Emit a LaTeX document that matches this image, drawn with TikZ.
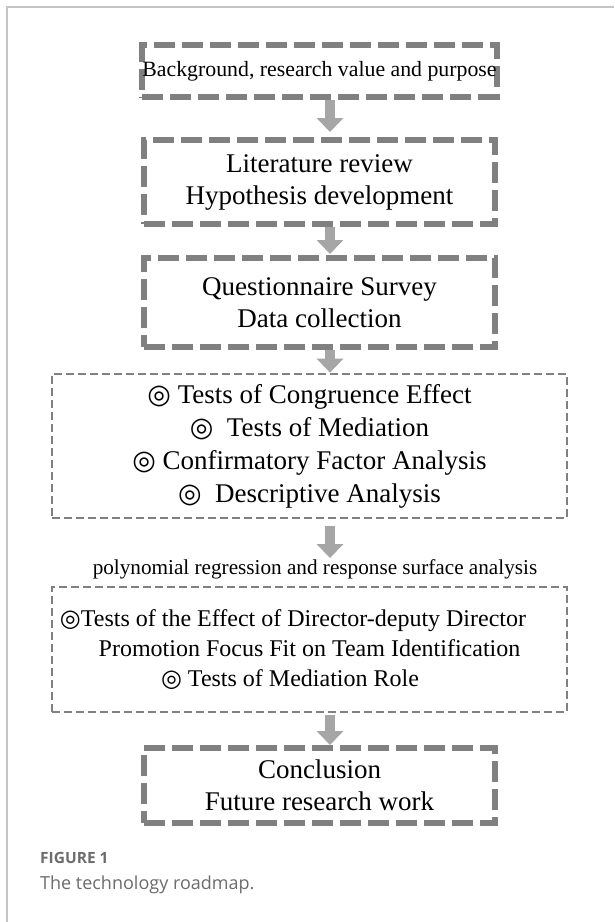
\documentclass[tikz,border=0pt]{standalone}
\usepackage{fontspec}
\setmainfont{Liberation Serif}
\newfontfamily\capfont{Open Sans}
\newfontfamily\symfont{DejaVu Sans}
\usetikzlibrary{arrows.meta}
\definecolor{boxgray}{HTML}{808080}
\definecolor{arrgray}{HTML}{A6A6A6}
\definecolor{framegray}{HTML}{C4C4C4}
\definecolor{capgray}{HTML}{6C6C6C}
\newcommand{\dc}{{\symfont ◎}}
\begin{document}
\begin{tikzpicture}[x=1pt,y=-1pt,
 thickbox/.style={draw=boxgray, line width=6pt, dash pattern=on 21pt off 7pt,
   minimum width=351pt, align=center, inner sep=0pt},
 thinbox/.style={draw=boxgray, line width=2.8pt, dash pattern=on 8pt off 4pt,
   minimum width=515pt, align=center, inner sep=0pt},
 flowarrow/.style={draw=arrgray, line width=10pt, -{Triangle[width=26pt,length=14pt]}},
 bigtext/.style={font=\fontsize{27}{32}\selectfont},
]
\useasboundingbox (0,0) rectangle (614,922);
\fill[white] (0,0) rectangle (614,922);
\draw[framegray, line width=1.5pt] (7,922) -- (7,7) -- (614,7);

\coordinate (ax) at (330,0);

\node[thickbox, minimum height=52pt, font=\fontsize{21.8}{26}\selectfont]
  (b1) at (319.5,71) {Background, research value and purpose};
\node[thickbox, minimum height=84pt, bigtext]
  (b2) at (319.5,182) {Literature review\\Hypothesis development};
\node[thickbox, minimum height=89pt, bigtext]
  (b3) at (319.5,302.5) {Questionnaire Survey\\Data collection};
\node[thinbox, minimum height=144pt, font=\fontsize{27}{33}\selectfont]
  (b4) at (309.5,446) {\dc\ Tests of Congruence Effect\\
   \dc\ \ Tests of Mediation\\
   \dc\ Confirmatory Factor Analysis\\
   \dc\ \ Descriptive Analysis};
\node[font=\fontsize{21.2}{25}\selectfont, inner sep=0pt]
  (poly) at (315,569) {polynomial regression and response surface analysis};
\node[thinbox, minimum height=125pt, font=\fontsize{24}{30}\selectfont]
  (b5) at (309.5,649.5) {\dc Tests of the Effect of Director-deputy Director\hspace*{33pt}\\
   Promotion Focus Fit on Team Identification\hspace*{14pt}\\
   \dc\ Tests of Mediation Role\hspace*{39pt}};
\node[thickbox, minimum height=75pt, bigtext]
  (b6) at (319.5,785.5) {Conclusion\\Future research work};

\draw[flowarrow, shorten >=5pt] (b1.south -| ax) -- (b2.north -| ax);
\draw[flowarrow, shorten >=1pt] (b2.south -| ax) -- (b3.north -| ax);
\draw[flowarrow] (b3.south -| ax) -- (b4.north -| ax);
\draw[flowarrow, shorten <=7pt, shorten >=1pt] (b4.south -| ax) -- (poly.north -| ax);
\draw[flowarrow, shorten <=2pt] (b5.south -| ax) -- (b6.north -| ax);

\node[anchor=base west, text=capgray, font=\capfont\bfseries\fontsize{15.5}{18}\selectfont, inner sep=0pt]
  (fig) at (40,863) {FIGURE 1};
\node[anchor=base west, text=capgray, font=\capfont\fontsize{18}{22}\selectfont, inner sep=0pt]
  (cap) at (40,889) {The technology roadmap.};
\end{tikzpicture}
\end{document}
